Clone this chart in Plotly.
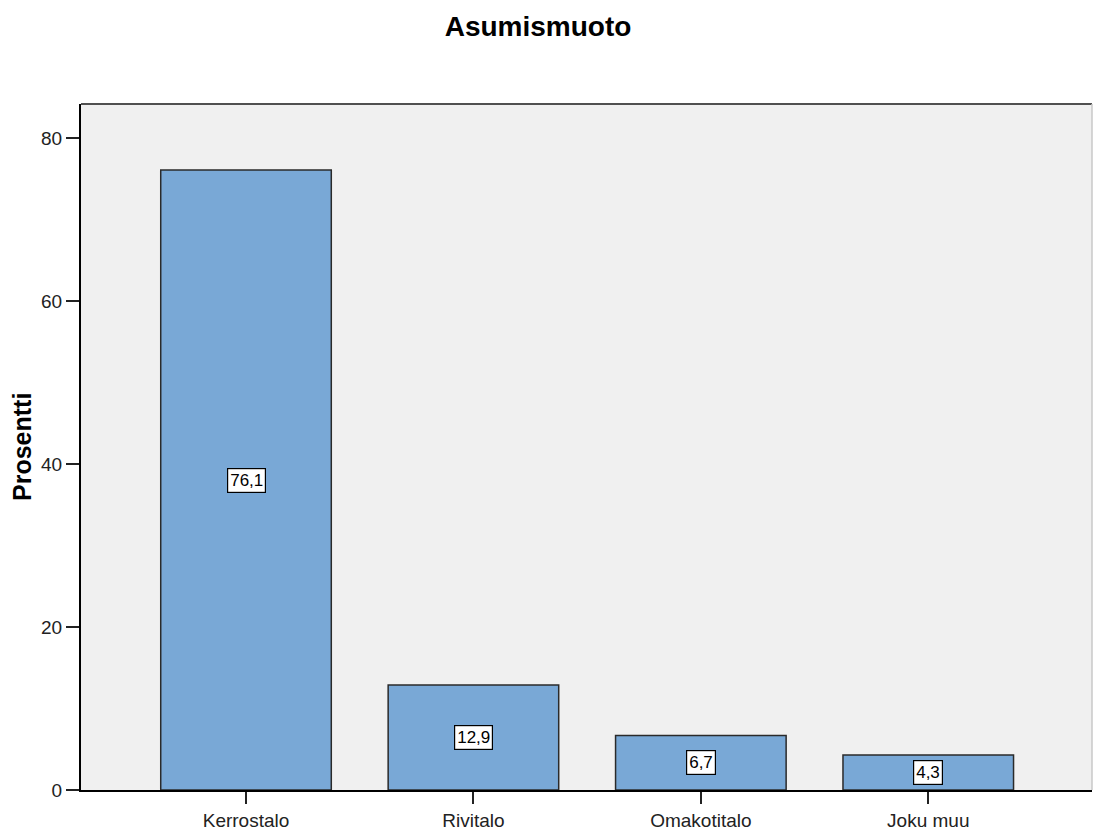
import plotly.graph_objects as go

categories = ["Kerrostalo", "Rivitalo", "Omakotitalo", "Joku muu"]
values = [76.1, 12.9, 6.7, 4.3]
value_labels = ["76,1", "12,9", "6,7", "4,3"]
y_ticks = [0, 20, 40, 60, 80]

FONT = "Liberation Sans, Arial, sans-serif"

fig = go.Figure()
fig.add_trace(go.Bar(
    x=categories, y=values, width=0.75,
    marker=dict(color="#79A8D6", line=dict(color="#2a2a2a", width=1.5)),
    hoverinfo="x+y",
))

for c, v, lab in zip(categories, values, value_labels):
    fig.add_annotation(
        x=c, y=v / 2, text=lab, showarrow=False,
        font=dict(family=FONT, size=17, color="black"),
        bgcolor="white", bordercolor="black", borderwidth=1.2, borderpad=2,
        xanchor="center", yanchor="middle",
    )

fig.add_annotation(
    xref="paper", yref="paper", x=-0.0584, y=0.5, text="<b>Prosentti</b>",
    textangle=-90, showarrow=False, xanchor="center", yanchor="middle",
    font=dict(family=FONT, size=25, color="black"),
)

# plot frame: top dark, right light
fig.add_shape(type="line", xref="paper", yref="paper", x0=0, x1=1, y0=1, y1=1,
              line=dict(color="#505050", width=2))
fig.add_shape(type="line", xref="paper", yref="paper", x0=1, x1=1, y0=0, y1=1,
              line=dict(color="#c8c8c8", width=1.5))

fig.update_layout(
    width=1093, height=832,
    margin=dict(l=81, r=1, t=104, b=37),
    paper_bgcolor="white", plot_bgcolor="#F0F0F0",
    showlegend=False,
    title=dict(text="<b>Asumismuoto</b>", x=538 / 1093, xref="container", xanchor="center",
               y=1 - 26 / 832, yanchor="middle", font=dict(family=FONT, size=28, color="black")),
    xaxis=dict(
        type="category", range=[-0.7256, 3.72], showgrid=False, zeroline=False,
        showline=True, linecolor="black", linewidth=2,
        ticks="outside", ticklen=12, tickwidth=2, tickcolor="#222",
        tickfont=dict(family=FONT, size=19, color="#222"),
    ),
    yaxis=dict(
        range=[0, 84.2], tickvals=y_ticks, showgrid=False, zeroline=False,
        showline=True, linecolor="black", linewidth=2,
        ticks="outside", ticklen=13, tickwidth=2, tickcolor="#222",
        tickfont=dict(family=FONT, size=19, color="#222"),
    ),
)

fig.write_html(
    "out.html",
    config={"displayModeBar": False},
    post_script="document.body.style.margin='0';document.body.style.overflow='hidden';",
)
